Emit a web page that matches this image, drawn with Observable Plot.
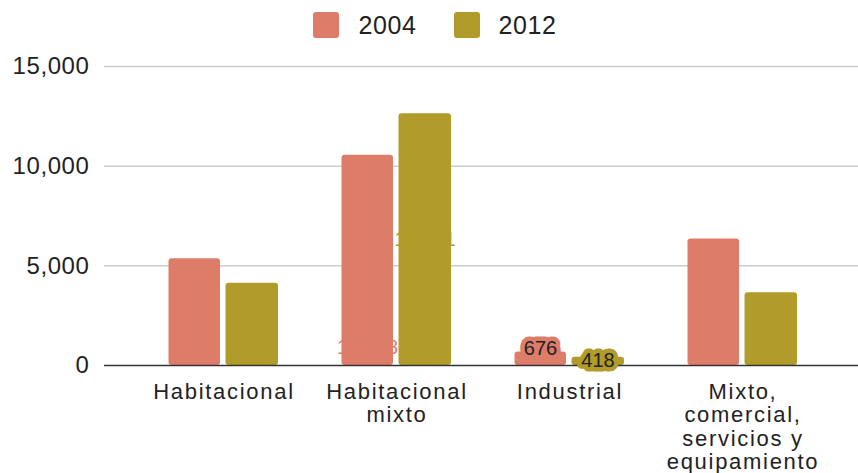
<!DOCTYPE html>
<html>
<head>
<meta charset="utf-8">
<script src="https://cdn.jsdelivr.net/npm/d3@7"></script>
<script src="https://cdn.jsdelivr.net/npm/@observablehq/plot@0.6"></script>
<style>
  html, body { margin: 0; padding: 0; background: #fff; }
  body { width: 858px; height: 473px; overflow: hidden; font-family: "Liberation Sans", Arial, sans-serif; color: #222; }
  #legend { height: 50px; display: flex; align-items: center; justify-content: center; padding-left: 12px; box-sizing: border-box; }
  .item { display: flex; align-items: center; font-size: 25px; letter-spacing: 0.6px; }
  .sw { width: 26px; height: 26px; border-radius: 3px; margin-right: 19px; }
  .item + .item { margin-left: 37px; }
  g[aria-label="x-axis tick label"] text { letter-spacing: 1.7px; }
  g[aria-label="y-axis tick label"] text { letter-spacing: 0.6px; }
</style>
</head>
<body>
<div id="legend"></div>
<div id="chart"></div>
<script>
const categories = ["Habitacional", "Habitacional mixto", "Industrial", "Mixto, comercial, servicios y equipamiento"];
const tickLabels = ["Habitacional", "Habitacional\nmixto", "Industrial", "Mixto,\ncomercial,\nservicios y\nequipamiento"];
const series = ["2004", "2012"];
const values2004 = [5350, 10548, 676, 6350];
const values2012 = [4130, 12631, 418, 3650];
const colors = ["#de7c6a", "#b19b2a"];
const yTicks = [0, 5000, 10000, 15000];

const rows = [];
categories.forEach((c, i) => {
  rows.push({category: c, year: series[0], value: values2004[i]});
  rows.push({category: c, year: series[1], value: values2012[i]});
});

// legend
const legend = document.getElementById("legend");
series.forEach((s, i) => {
  const it = document.createElement("div");
  it.className = "item";
  it.innerHTML = `<div class="sw" style="background:${colors[i]}"></div><span>${s}</span>`;
  legend.appendChild(it);
});

const r04 = rows.filter(d => d.year === series[0]);
const r12 = rows.filter(d => d.year === series[1]);
const fmt = d3.format(",");

const chart = Plot.plot({
  width: 858,
  height: 423,
  marginLeft: 104,
  marginRight: 0,
  marginTop: 16,
  marginBottom: 108,
  style: {fontFamily: "'Liberation Sans', Arial, sans-serif", color: "#222", background: "#fff", overflow: "visible"},
  x: {domain: categories, range: [135.5, 830.5], padding: 0},
  y: {domain: [0, 15000]},
  marks: [
    Plot.ruleY(yTicks.filter(t => t > 0), {stroke: "#cccccc", strokeWidth: 1.5}),
    Plot.barY(r04, {x: "category", y: "value", fill: colors[0], insetLeft: 31.5, insetRight: 90, rx: 3}),
    Plot.barY(r12, {x: "category", y: "value", fill: colors[1], insetLeft: 88.5, insetRight: 32, rx: 3}),
    Plot.ruleY([0], {stroke: "#333", strokeWidth: 1.5}),
    // faint labels drawn in bar colour (as in the reference)
    Plot.text(r04.filter(d => d.category === categories[1]), {x: "category", y: d => 900, text: d => fmt(d.value), dx: -29.5, fill: colors[0], fontSize: 20}),
    Plot.text(r12.filter(d => d.category === categories[1]), {x: "category", y: d => d.value / 2, text: d => fmt(d.value), dx: 28, fill: colors[1], fontSize: 20}),
    // visible Industrial labels with halo
    Plot.text(r04.filter(d => d.category === categories[2]), {x: "category", y: "value", text: d => fmt(d.value), dx: -29.5, dy: -3, fill: "#222", stroke: colors[0], strokeWidth: 9, strokeLinejoin: "round", fontSize: 20}),
    Plot.text(r12.filter(d => d.category === categories[2]), {x: "category", y: "value", text: d => fmt(d.value), dx: 28, dy: 3, fill: "#222", stroke: colors[1], strokeWidth: 9, strokeLinejoin: "round", fontSize: 20}),
    Plot.axisY({ticks: yTicks, tickSize: 0, tickPadding: 15, fontSize: 24, tickFormat: fmt, label: null, fill: "#222"}),
    Plot.axisX({tickSize: 0, tickPadding: 17, fontSize: 22, lineHeight: 1.06, tickFormat: d => tickLabels[categories.indexOf(d)], label: null, fill: "#222"})
  ]
});
document.getElementById("chart").appendChild(chart);
</script>
</body>
</html>
